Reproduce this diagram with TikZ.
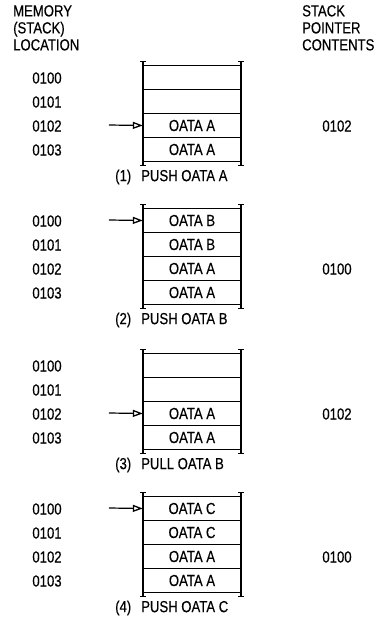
\documentclass[tikz,border=0pt]{standalone}
\usepackage{fontspec}
\setmainfont[FakeStretch=0.82, FakeBold=0.4]{Liberation Sans}
\usetikzlibrary{arrows.meta}
\tikzset{
  txt/.style={inner sep=0pt, font=\fontsize{16}{17}\selectfont},
  cell/.style={txt, minimum width=98pt, minimum height=24pt},
  hline/.style={line width=0.9pt},
  vline/.style={line width=1.5pt},
  ptr/.style={line width=1.2pt, -{Triangle[open, length=10pt, width=7pt, line width=1.3pt]}},
}
\newcommand\stackpanel[9]{%
  \begin{scope}[shift={(0,#2)}]
    \node[cell] (#1r1) at (192,12.5) {#3};
    \node[cell] (#1r2) at (192,36.5) {#4};
    \node[cell] (#1r3) at (192,60.5) {#5};
    \node[cell] (#1r4) at (192,84.5) {#6};
    \foreach \yy in {0,24,48,72,96} \draw[hline] (143,\yy) -- (241,\yy);
    \draw[vline] (143,-4) -- (143,100);
    \draw[vline] (241,-4) -- (241,100);
    \draw[hline] (140,-4) -- (146,-4) (238,-4) -- (244,-4)
                 (140,100) -- (146,100) (238,100) -- (244,100);
    \node[txt] (#1a1) at (47,13) {0100};
    \node[txt] (#1a2) at (47,37) {0101};
    \node[txt] (#1a3) at (47,61) {0102};
    \node[txt] (#1a4) at (47,85) {0103};
    \coordinate (#1s) at (109,{12+24*(#7-1)});
    \draw[ptr] (#1s) -- (#1r#7.west);
    \node[txt] (#1sp) at (337,61) {#8};
    \node[txt, anchor=west] (#1cap) at (115,112) {#9};
  \end{scope}}
\begin{document}
\begin{tikzpicture}[x=1pt, y=-1pt]
  \useasboundingbox (0,0) rectangle (375,621);
  \node[txt, anchor=north west, align=left] (memhead) at (13,5) {MEMORY\\(STACK)\\LOCATION};
  \node[txt, anchor=north west, align=left] (sphead) at (302,5) {STACK\\POINTER\\CONTENTS};
  \stackpanel{p1}{65}{}{}{OATA A}{OATA A}{3}{0102}{(1)\hspace{10pt}PUSH OATA A}
  \stackpanel{p2}{208}{OATA B}{OATA B}{OATA A}{OATA A}{1}{0100}{(2)\hspace{10pt}PUSH OATA B}
  \stackpanel{p3}{353}{}{}{OATA A}{OATA A}{3}{0102}{(3)\hspace{10pt}PULL OATA B}
  \stackpanel{p4}{496}{OATA C}{OATA C}{OATA A}{OATA A}{1}{0100}{(4)\hspace{10pt}PUSH OATA C}
\end{tikzpicture}
\end{document}
